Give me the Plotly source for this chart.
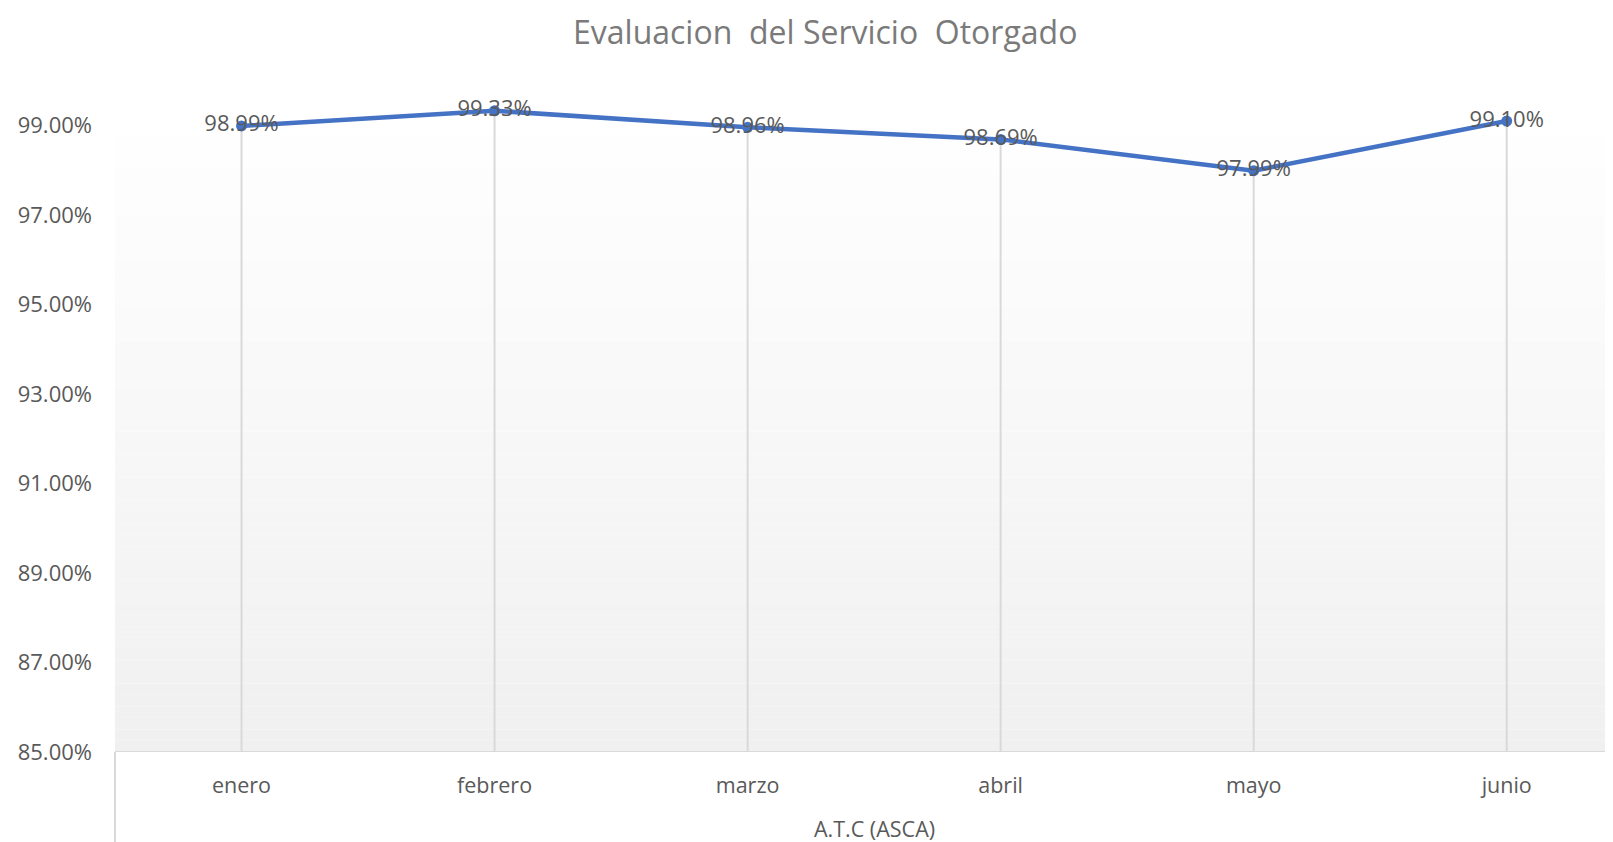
import plotly.graph_objects as go

months = ["enero", "febrero", "marzo", "abril", "mayo", "junio"]
values = [98.99, 99.33, 98.96, 98.69, 97.99, 99.10]
labels = ["98.99%", "99.33%", "98.96%", "98.69%", "97.99%", "99.10%"]
y_ticks = [85, 87, 89, 91, 93, 95, 97, 99]
y_tick_text = ["85.00%", "87.00%", "89.00%", "91.00%", "93.00%", "95.00%", "97.00%", "99.00%"]
title_text = "Evaluacion  del Servicio  Otorgado"
axis_title = "A.T.C (ASCA)"

Y_MIN, Y_MAX = 85, 100.33
xs = list(range(len(months)))

W, H = 1605, 834
L, T, B = 107, 58, 90
PH = H - T - B

fig = go.Figure()

# gradient background strips (white top -> light gray bottom)
n = 60
for i in range(n):
    y0 = Y_MIN + (Y_MAX - Y_MIN) * i / n
    y1 = Y_MIN + (Y_MAX - Y_MIN) * (i + 1) / n
    t = (i + 0.5) / n
    c = min(255, int(round(240 + 16 * t)))
    fig.add_shape(type="rect", xref="paper", yref="y", x0=0, x1=1, y0=y0, y1=y1,
                  fillcolor=f"rgb({c},{c},{c})", line=dict(width=0), layer="below")

# drop lines
dx, dy = [], []
for x, v in zip(xs, values):
    dx += [x, x, None]
    dy += [Y_MIN, v, None]
fig.add_trace(go.Scatter(x=dx, y=dy, mode="lines", line=dict(color="#d9d9d9", width=2),
                         hoverinfo="skip", showlegend=False))

fig.add_trace(go.Scatter(
    x=xs, y=values, mode="lines+markers+text",
    line=dict(color="#4472C4", width=4.5),
    marker=dict(color="#4472C4", size=11),
    text=labels, textposition="middle center",
    textfont=dict(family="Open Sans", size=22, color="#595959"),
    showlegend=False, cliponaxis=False,
))

fig.update_layout(
    width=W, height=H,
    paper_bgcolor="white", plot_bgcolor="white",
    margin=dict(l=L, r=0, t=T, b=B),
    font=dict(family="Open Sans", color="#595959"),
    xaxis=dict(range=[-0.5, 5.42], tickvals=xs, ticktext=months, showgrid=False,
               zeroline=False, showline=False, ticks="",
               tickfont=dict(family="Open Sans", size=21.5, color="#595959"),
               ticklabelstandoff=18),
    yaxis=dict(range=[Y_MIN, Y_MAX], tickvals=y_ticks, ticktext=y_tick_text,
               showgrid=False, zeroline=False, showline=False, ticks="",
               tickfont=dict(family="Open Sans", size=22, color="#595959"),
               ticklabelstandoff=22),
)

# title as annotation
fig.add_annotation(text=title_text, xref="paper", yref="paper",
                   x=(802 * 1.0287 - 8 - L) / (W - L), xanchor="center",
                   y=1 + (T - 23) / PH, yanchor="middle", showarrow=False,
                   font=dict(family="Open Sans", size=32, color="#7a7a7a"))

# category axis line and left boundary line
fig.add_shape(type="line", xref="paper", yref="y", x0=0, x1=1, y0=Y_MIN, y1=Y_MIN,
              line=dict(color="#d9d9d9", width=2))
fig.add_shape(type="line", xref="paper", yref="paper", x0=0, x1=0, y0=0, y1=-B / PH,
              line=dict(color="#d9d9d9", width=2))

fig.add_annotation(text=axis_title, xref="x", yref="paper", x=(-0.5 + 5.5) / 2,
                   y=-76 / PH, yanchor="middle", showarrow=False,
                   font=dict(family="Open Sans", size=21.5, color="#595959"))

fig.write_html("out.html")
